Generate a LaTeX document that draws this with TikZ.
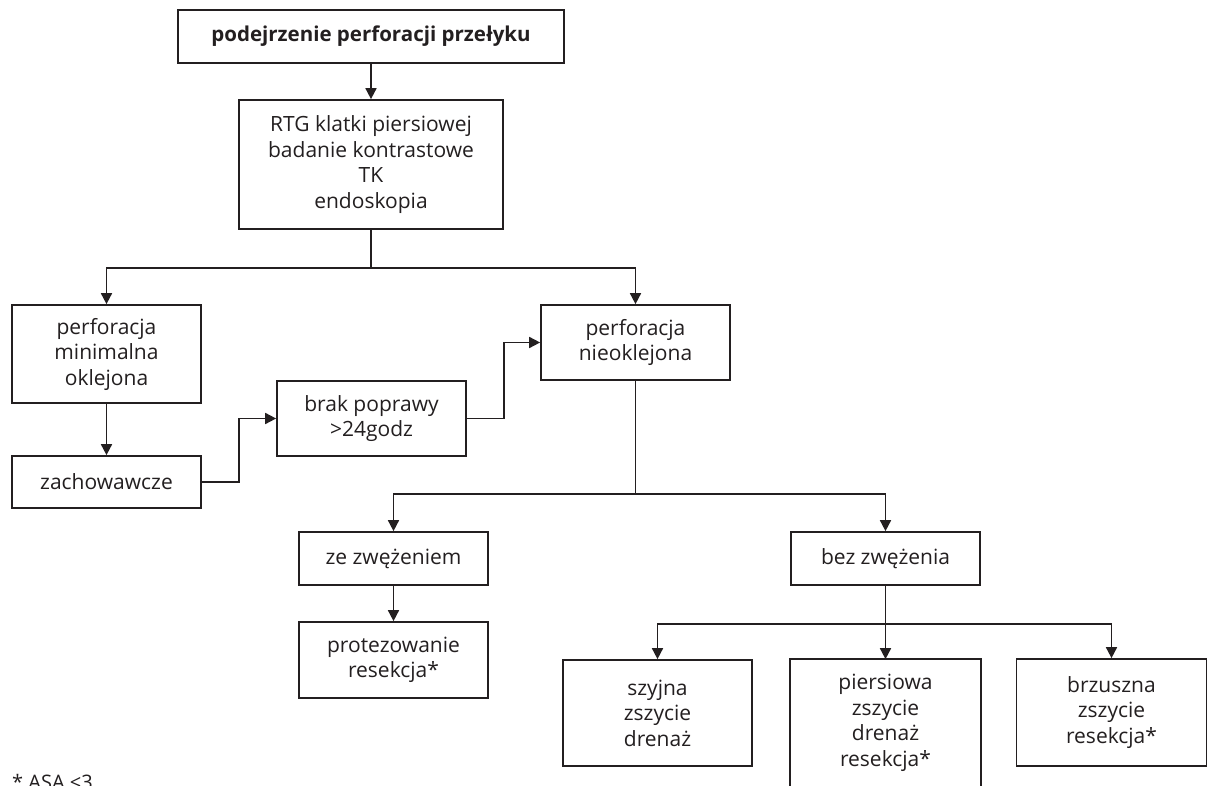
\documentclass[tikz,border=0pt]{standalone}
\usepackage{fontspec}
\setmainfont{Open Sans}
\usetikzlibrary{arrows.meta}
\definecolor{ink}{HTML}{231F20}
\tikzset{
  box/.style={draw=ink, line width=1.7pt, inner sep=0pt, align=center,
    text=ink, font=\fontsize{21}{25.5}\selectfont},
  conn/.style={draw=ink, line width=1.7pt},
  arr/.style={conn, -{Triangle[length=11pt,width=11pt]}},
}
\begin{document}
\begin{tikzpicture}[x=1pt,y=-1pt]
\clip (0,0) rectangle (1208,786);
\fill[white] (0,0) rectangle (1208,786);
\node[box, minimum width=386, minimum height=53, font=\fontsize{20.5}{25}\selectfont\bfseries] (top) at (371,36.5) {podejrzenie perforacji przełyku};
\node[box, minimum width=264, minimum height=129] (rtg) at (371,164.5) {RTG klatki piersiowej\\badanie kontrastowe\\TK\\endoskopia};
\node[box, minimum width=189, minimum height=98] (min) at (106.5,354) {perforacja\\minimalna\\oklejona};
\node[box, minimum width=189, minimum height=52] (zach) at (106.5,482) {zachowawcze};
\node[box, minimum width=189, minimum height=75] (brak) at (371.5,418.5) {brak poprawy\\>24godz};
\node[box, minimum width=189, minimum height=75] (nieo) at (635.5,342.5) {perforacja\\nieoklejona};
\node[box, minimum width=189, minimum height=53] (ze) at (393.5,558.5) {ze zwężeniem};
\node[box, minimum width=189, minimum height=76] (prot) at (393.5,660) {protezowanie\\resekcja*};
\node[box, minimum width=189, minimum height=53] (bez) at (885.5,558.5) {bez zwężenia};
\node[box, minimum width=189, minimum height=106] (szy) at (657.5,713) {szyjna\\zszycie\\drenaż};
\node[box, draw=none, minimum width=189, minimum height=126] (pier) at (885.5,723) {piersiowa\\zszycie\\drenaż\\resekcja*};
\draw[conn] ([yshift=-30pt]pier.south west) |- (pier.north east) -- ([yshift=-30pt]pier.south east);
\node[box, minimum width=190, minimum height=107] (brz) at (1111.5,712.5) {brzuszna\\zszycie\\resekcja*};
\node[text=ink, font=\fontsize{20}{24}\selectfont, anchor=base west, inner sep=0pt] (foot) at (12,789) {* ASA <3};

\draw[arr] (top.south) -- (rtg.north);
\draw[conn] (rtg.south) -- ++(0,38) coordinate (j1);
\draw[arr] (j1) -| (min.north);
\draw[arr] (j1) -| (nieo.north);
\draw[arr] (min.south) -- (zach.north);
\draw[arr] (zach.east) -- ++(37,0) |- (brak.west);
\draw[arr] (brak.east) -- ++(37,0) |- (nieo.west);
\draw[conn] (nieo.south) -- ++(0,113) coordinate (j2);
\draw[arr] (j2) -| (ze.north);
\draw[arr] (j2) -| (bez.north);
\draw[arr] (ze.south) -- (prot.north);
\draw[conn] (bez.south) -- ++(0,38) coordinate (j3);
\draw[arr] (j3) -| (szy.north);
\draw[arr] (j3) -- (pier.north);
\draw[arr] (j3) -| (brz.north);
\end{tikzpicture}
\end{document}
